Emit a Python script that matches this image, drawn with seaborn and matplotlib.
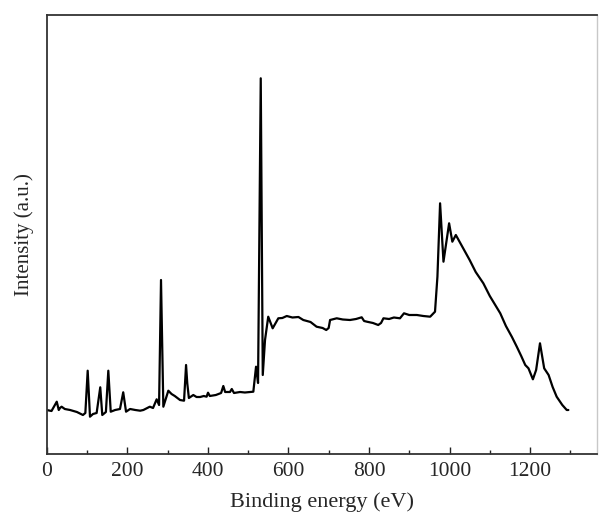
import numpy as np
import pandas as pd
import seaborn as sns
import matplotlib.pyplot as plt
from matplotlib.ticker import MultipleLocator

sns.set_style('ticks')
plt.rcParams['font.family'] = ['Liberation Serif', 'DejaVu Serif']

# XPS survey (binding energy in eV, intensity in a.u.)
energy = [0, 12, 25, 30, 33, 37, 45, 58, 75, 90, 96, 101.8, 107.5, 115, 124,
          133, 138, 147, 153, 159, 170, 182, 190, 197, 207, 220, 232, 240,
          248, 256, 264, 273, 279, 283.8, 289.6, 302, 310, 318, 331, 341, 346,
          349, 353, 364, 372, 381, 390, 397, 400.5, 405, 420, 433, 438.5, 443,
          455, 459.5, 465, 480, 492, 505, 513, 519.7, 524.7, 531.4, 536.4, 542,
          550, 561, 575, 585, 596, 610, 625, 637, 655, 670, 685, 694, 700,
          703.5, 720, 735, 753, 768, 782, 788, 795, 810, 823, 830, 836, 850,
          862, 877, 887, 900, 919, 935, 952, 964, 970, 976.6, 985, 999, 1007,
          1015.7, 1034, 1050, 1065, 1084, 1100, 1112, 1126, 1140, 1155, 1167,
          1178, 1188, 1196, 1207, 1215, 1224.6, 1235, 1246, 1256, 1266, 1280,
          1291, 1295]
intensity = [44, 43, 52.3, 44, 46, 47.3, 45, 44, 42, 39, 41, 83.3, 37.3, 40,
             41, 66.7, 39, 42, 83.3, 42.3, 44, 45, 61.7, 42.3, 45, 44, 43.3,
             44, 45.7, 47.3, 46, 54.7, 49, 174, 47.3, 63.3, 60, 58, 54, 53.3,
             89, 70.7, 56, 59, 57, 57, 58, 57.3, 61.3, 58, 59, 61, 68, 62, 62,
             65, 61, 62, 61.5, 62, 62.3, 87.3, 71, 375.7, 79, 114, 137.3, 125.7,
             135.7, 136, 138, 136.5, 137, 134, 132, 127.3, 126, 124, 126, 134,
             135.7, 134.5, 134, 135, 136.7, 133, 132.3, 131, 129, 131, 135.7,
             135, 136.5, 135.7, 140.7, 139, 139, 138, 137.3, 142.3, 177.3, 250.7,
             192.3, 230.7, 212.3, 219, 205.7, 194, 182, 170.7, 158, 150, 140.7,
             128, 117, 107.3, 98, 89, 85.7, 74.7, 84, 110.7, 85.7, 79, 67, 57.3,
             49, 44, 44]

df = pd.DataFrame({'energy': energy, 'intensity': intensity})

fig = plt.figure(figsize=(6.11, 5.30), dpi=100)
ax = fig.add_axes([0.0764, 0.1434, 0.9006, 0.8283])

sns.lineplot(data=df, x='energy', y='intensity', color='black', linewidth=1.6,
             sort=False, ax=ax)

ax.set_xlim(0, 1366)
ax.set_ylim(0, 439)
ax.set_yticks([])
ax.xaxis.set_major_locator(MultipleLocator(200))
ax.xaxis.set_minor_locator(MultipleLocator(100))
ax.set_xticks([0, 200, 400, 600, 800, 1000, 1200])
ax.tick_params(axis='x', which='major', direction='in', length=5, width=1,
               labelsize=15.5, pad=6, color='#222222')
ax.tick_params(axis='x', which='minor', direction='in', length=3, width=1,
               color='#222222')

for side in ['left', 'top', 'bottom']:
    ax.spines[side].set_color('#333333')
    ax.spines[side].set_linewidth(1.3)
ax.spines['right'].set_color('#c8c8c8')
ax.spines['right'].set_linewidth(1.0)

ax.set_xlabel('Binding energy (eV)', fontsize=16, labelpad=8)
ax.set_ylabel('Intensity (a.u.)', fontsize=15, labelpad=9)

fig.savefig('out.png', dpi=100)
